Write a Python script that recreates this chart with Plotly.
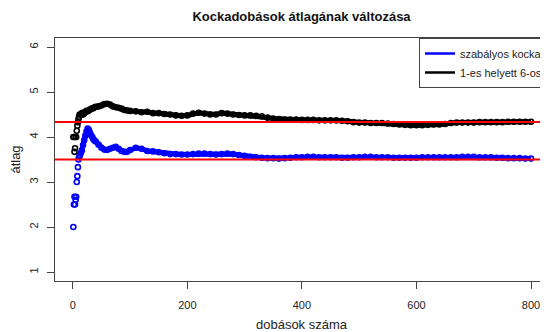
import plotly.graph_objects as go

n_throws = [1, 2, 3, 4, 5, 6, 7, 8, 9, 10, 11, 12,
            14, 16, 18, 20, 22, 24, 26, 28, 30, 32, 34, 36, 38, 40,
            45, 50, 55, 60, 65, 70, 75, 80, 85, 90, 95, 100,
            110, 120, 130, 140, 150, 160, 170, 180, 190, 200,
            210, 220, 230, 240, 250, 260, 270, 280, 290, 300,
            310, 320, 330, 340, 350, 360, 370, 380, 390, 400,
            410, 420, 430, 440, 450, 460, 470, 480, 490, 500,
            510, 520, 530, 540, 550, 560, 570, 580, 590, 600,
            610, 620, 630, 640, 650, 660, 670, 680, 690, 700,
            710, 720, 730, 740, 750, 760, 770, 780, 790, 800]

# running mean, fair die ("szabályos kocka")
fair_mean = [2.0, 2.5, 2.67, 2.5, 2.6, 2.67, 3.0, 3.13, 3.33, 3.5, 3.55, 3.58,
             3.64, 3.7, 3.82, 3.93, 4.03, 4.12, 4.19, 4.16, 4.1, 4.04, 4.0, 3.95, 3.92, 3.9,
             3.83, 3.76, 3.72, 3.71, 3.74, 3.76, 3.78, 3.74, 3.69, 3.67, 3.67, 3.71,
             3.76, 3.74, 3.69, 3.68, 3.66, 3.64, 3.62, 3.62, 3.61, 3.61,
             3.62, 3.63, 3.63, 3.62, 3.61, 3.62, 3.63, 3.62, 3.6, 3.58,
             3.56, 3.55, 3.54, 3.53, 3.53, 3.52, 3.53, 3.54, 3.55, 3.55,
             3.56, 3.56, 3.55, 3.55, 3.55, 3.55, 3.54, 3.54, 3.55, 3.55,
             3.56, 3.56, 3.55, 3.55, 3.55, 3.54, 3.54, 3.54, 3.54, 3.54,
             3.55, 3.55, 3.55, 3.55, 3.55, 3.55, 3.55, 3.56, 3.56, 3.56,
             3.55, 3.55, 3.55, 3.54, 3.54, 3.53, 3.53, 3.53, 3.52, 3.52]

# running mean, die with 6 instead of 1 ("1-es helyett 6-os")
six_mean = [4.0, 4.0, 3.67, 3.75, 4.0, 4.0, 4.14, 4.25, 4.33, 4.4, 4.45, 4.5,
            4.5, 4.53, 4.5, 4.52, 4.56, 4.58, 4.57, 4.59, 4.61, 4.62, 4.64, 4.64, 4.66, 4.67,
            4.68, 4.7, 4.73, 4.74, 4.72, 4.68, 4.66, 4.65, 4.63, 4.6, 4.59, 4.58,
            4.57, 4.55, 4.56, 4.53, 4.53, 4.51, 4.5, 4.48, 4.47, 4.48,
            4.52, 4.54, 4.52, 4.5, 4.5, 4.53, 4.52, 4.5, 4.49, 4.48,
            4.48, 4.47, 4.46, 4.43, 4.41, 4.4, 4.39, 4.39, 4.39, 4.38,
            4.38, 4.38, 4.37, 4.37, 4.37, 4.37, 4.36, 4.35, 4.33, 4.32,
            4.32, 4.31, 4.31, 4.31, 4.3, 4.29, 4.28, 4.27, 4.26, 4.26,
            4.26, 4.27, 4.28, 4.28, 4.29, 4.31, 4.32, 4.32, 4.32, 4.32,
            4.33, 4.33, 4.33, 4.33, 4.33, 4.34, 4.34, 4.34, 4.34, 4.34]

# expected values (red reference lines)
expected_levels = [3.5, 4.333]

series_names = ["szabályos kocka", "1-es helyett 6-os"]
x_ticks = [0, 200, 400, 600, 800]
y_ticks = [1, 2, 3, 4, 5, 6]

BLUE = "#0000FF"
BLACK = "#000000"
RED = "#FF0000"
AXIS = "#444444"
FONT = "Arial, Liberation Sans, sans-serif"

# the page body adds an 8px offset; the figure fills the rest of the window
W, H = 540, 324

band_start = n_throws.index(12)

fig = go.Figure()
for vals, col in [(fair_mean, BLUE), (six_mean, BLACK)]:
    fig.add_trace(go.Scatter(
        x=n_throws[band_start:], y=vals[band_start:], mode="lines",
        line=dict(color=col, width=5), showlegend=False, hoverinfo="skip"))
    fig.add_trace(go.Scatter(
        x=n_throws, y=vals, mode="markers",
        marker=dict(symbol="circle-open", size=5, color=col, line=dict(width=1.6, color=col)),
        showlegend=False, hoverinfo="skip"))

for name, col in zip(series_names, [BLUE, BLACK]):
    fig.add_trace(go.Scatter(x=[None], y=[None], mode="lines", name=name,
                             line=dict(color=col, width=2.5)))

for lvl in expected_levels:
    fig.add_shape(type="line", xref="paper", x0=0, x1=1, yref="y", y0=lvl, y1=lvl,
                  line=dict(color=RED, width=2), layer="above")

fig.update_layout(
    width=W, height=H,
    margin=dict(l=47, r=0, t=30, b=51, autoexpand=False),
    paper_bgcolor="white", plot_bgcolor="white",
    font=dict(family=FONT, size=11, color="#222222"),
    title=dict(text="<b>Kockadobások átlagának változása</b>", x=0.5, xref="paper",
               xanchor="center", y=1 - 8 / H, yanchor="middle",
               font=dict(family=FONT, size=13, color="#111111")),
    legend=dict(x=1, xanchor="right", y=1, yanchor="top",
                bordercolor=AXIS, borderwidth=1, bgcolor="white",
                font=dict(family=FONT, size=11, color="#222222"),
                tracegroupgap=0),
    xaxis=dict(range=[-31, 829.6], tickvals=x_ticks, ticks="outside", ticklen=7,
               tickcolor=AXIS, showline=True, linecolor=AXIS, linewidth=1, mirror=True,
               showgrid=False, zeroline=False, ticklabelstandoff=7,
               title=dict(text="dobások száma", standoff=14)),
    yaxis=dict(range=[0.8, 6.2], tickvals=y_ticks, tickangle=-90, ticks="outside", ticklen=7,
               tickcolor=AXIS, showline=True, linecolor=AXIS, linewidth=1, mirror=False,
               showgrid=False, zeroline=False, ticklabelstandoff=5,
               title=dict(text="átlag", standoff=14)),
)

fig.write_html("out.html")
